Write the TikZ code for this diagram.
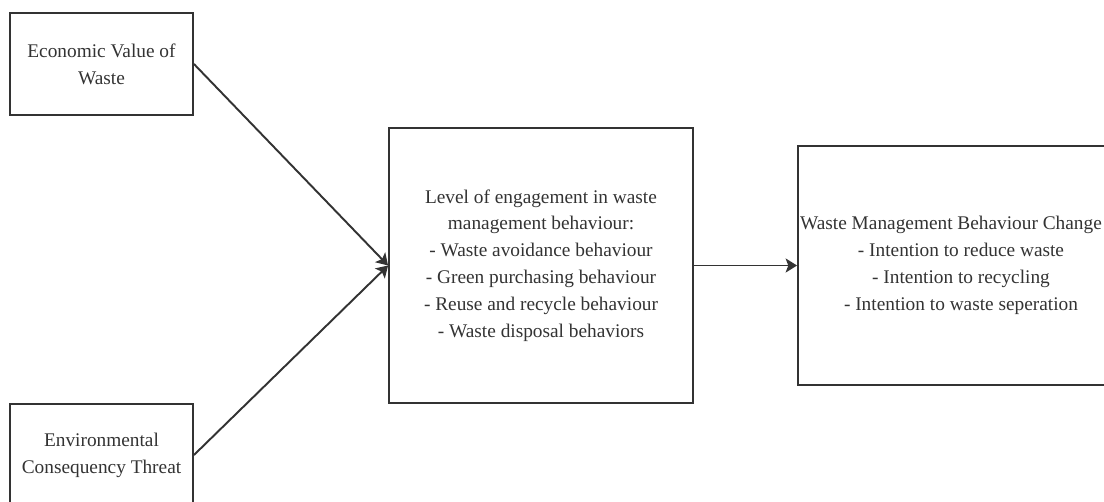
\documentclass[tikz,border=0pt]{standalone}
\usepackage{fontspec}
\setmainfont{Liberation Serif}
\usetikzlibrary{arrows.meta}

\begin{document}
\begin{tikzpicture}[x=0.02cm,y=-0.02cm,
  box/.style={draw=black!80, line width=1.1pt, align=center, text=black!80,
    font=\fontsize{11}{15.3}\selectfont, inner sep=0pt},
  link/.style={draw=black!80, line width=1.1pt, -{Stealth[length=6.5pt,width=8pt,inset=1.5pt]}}]
  \useasboundingbox (0,0) rectangle (1104,501);
  % the two factors on the left
  \node[box, minimum width=3.66cm, minimum height=2.04cm] (econ) at (101.5,64) {Economic Value of\\Waste};
  \node[box, minimum width=3.66cm, minimum height=2.04cm] (envir) at (101.5,455) {Environmental\\Consequency Threat};
  % engagement in the middle
  \node[box, minimum width=6.08cm, minimum height=5.5cm] (engage) at (541,265.5)
    {Level of engagement in waste\\management behaviour:\\- Waste avoidance behaviour\\- Green purchasing behaviour\\- Reuse and recycle behaviour\\- Waste disposal behaviors};
  % outcome on the right, cut at the page edge
  \node[box, minimum width=6.52cm, minimum height=4.78cm] (change) at (961,265.5)
    {Waste Management Behaviour Change\hspace*{0.4cm}\\- Intention to reduce waste\\- Intention to recycling\\- Intention to waste seperation};
  \draw[link] (econ.east) -- (engage.west);
  \draw[link] (envir.east) -- (engage.west);
  \draw[link] (engage.east) -- (change.west);
\end{tikzpicture}
\end{document}
